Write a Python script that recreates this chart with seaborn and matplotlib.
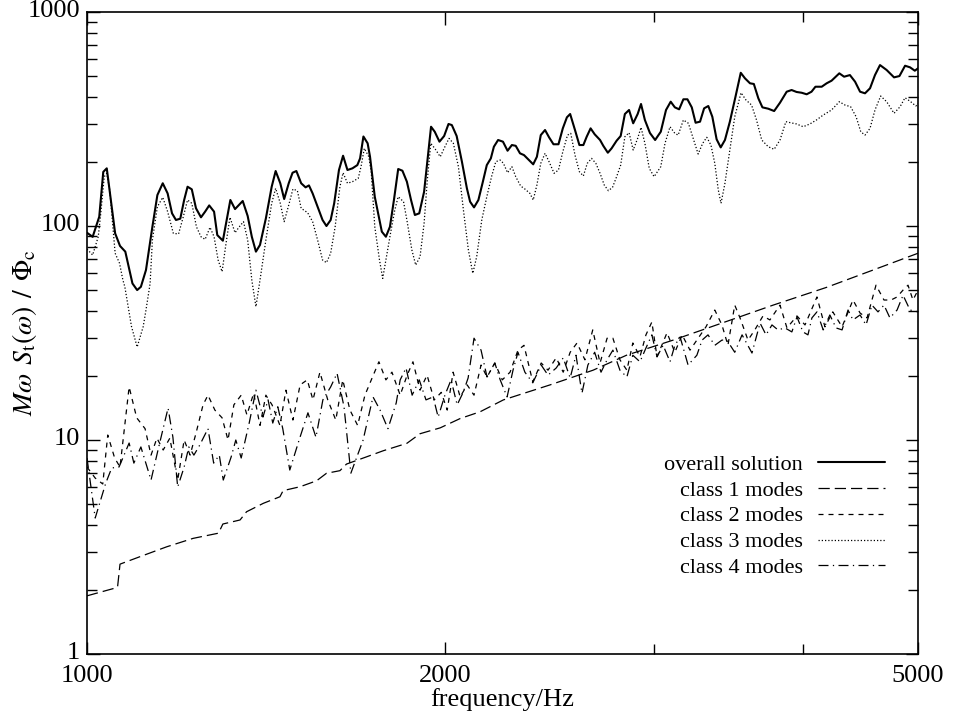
import matplotlib
matplotlib.use("Agg")
import matplotlib.pyplot as plt
import seaborn as sns
from matplotlib.ticker import FixedLocator, FixedFormatter, LogLocator, NullFormatter
from matplotlib.transforms import ScaledTranslation

# values (frequency in Hz, response)
overall_f = [1000, 1011, 1024, 1032, 1039, 1056, 1066, 1077, 1092, 1102,
             1110, 1121, 1135, 1146, 1158, 1169, 1179, 1188, 1198, 1207,
             1215, 1225, 1235, 1247, 1257, 1267, 1279, 1287, 1301, 1320,
             1332, 1342, 1352, 1365, 1376, 1387, 1398, 1414, 1430, 1441,
             1454, 1465, 1478, 1489, 1500, 1514, 1527, 1537, 1548, 1563,
             1578, 1590, 1603, 1614, 1629, 1642, 1656, 1672, 1688, 1697,
             1708, 1722, 1730, 1746, 1770, 1784, 1798, 1812, 1827, 1842,
             1858, 1873, 1887, 1903, 1921, 1935, 1947, 1961, 1979, 1997,
             2014, 2027, 2046, 2067, 2087, 2100, 2116, 2134, 2151, 2169,
             2186, 2199, 2217, 2238, 2258, 2277, 2294, 2313, 2331, 2350,
             2373, 2390, 2408, 2428, 2447, 2468, 2492, 2513, 2533, 2549,
             2573, 2595, 2615, 2632, 2652, 2673, 2701, 2718, 2742, 2762,
             2789, 2811, 2834, 2857, 2880, 2905, 2924, 2946, 2975, 3005,
             3038, 3069, 3097, 3122, 3148, 3174, 3199, 3226, 3250, 3278,
             3304, 3331, 3357, 3385, 3412, 3440, 3473, 3511, 3547, 3576,
             3611, 3638, 3670, 3699, 3741, 3784, 3827, 3877, 3914, 3952,
             3991, 4030, 4068, 4099, 4149, 4189, 4229, 4293, 4333, 4382,
             4426, 4469, 4512, 4556, 4600, 4645, 4705, 4773, 4823, 4876,
             4923, 4969, 5000]
overall_v = [93, 89, 110.5, 179, 186, 92.4, 80.7, 75.9, 53.9, 50.2,
             52, 62.3, 99.2, 139.5, 158.4, 142, 114.6, 106.7, 108.2, 132.3,
             152.6, 148.4, 121, 109.8, 116.7, 124.8, 116.7, 90.7, 85.4, 132.3,
             120, 125.3, 130.9, 111.4, 89.1, 75.9, 81.6, 108.6, 152.6, 180.7,
             158.4, 133.7, 158.4, 177.4, 180.7, 158.4, 151.6, 154.8, 142, 123,
             106.7, 100, 106.7, 127.7, 182.7, 213, 182.7, 186, 192.6, 207,
             262, 243.5, 210.7, 137, 94.1, 89.1, 99.2, 132.3, 184.7, 181.3,
             161.1, 132.3, 112.6, 114.6, 144.6, 210.7, 291, 275.8, 247.8, 263.4,
             299.8, 296.3, 263.4, 199.7, 150, 129.9, 122.2, 132.3, 158.4, 192.6,
             207, 234.7, 252.3, 247.8, 224.8, 239, 237, 218.6, 214.5, 204.9,
             194.2, 210.7, 266, 280.9, 259.7, 241, 241, 286, 322, 333.7,
             280.9, 239, 239, 261.4, 286, 268.3, 252.3, 237, 220, 230.6,
             250.4, 263.4, 333.7, 348.4, 302, 333.7, 371.7, 312.9, 272, 252.3,
             275.8, 348.4, 381, 358.5, 351, 391, 391, 358.5, 303.8, 307.3,
             354.7, 363.7, 324, 254.2, 233, 252.3, 307.3, 402, 520, 490,
             464.4, 461, 395, 358.5, 353.3, 344.6, 376.8, 424.2, 432, 423,
             419.5, 412.6, 424.2, 447.6, 447.6, 464.4, 477.6, 517, 498.5, 507.4,
             472.5, 424.2, 417, 440, 507.4, 565, 535.8, 495, 502, 561,
             551.5, 531.8, 545.6]

class1_f = [1000, 1055, 1061, 1066, 1108, 1167, 1228, 1290, 1301, 1345,
            1362, 1407, 1453, 1462, 1511, 1560, 1590, 1632, 1653, 1719,
            1775, 1858, 1906, 1982, 2060, 2141, 2240, 2452, 2665, 2843,
            3112, 3385, 3777, 4189, 4584, 5000]
class1_v = [1.87, 2.03, 2.06, 2.63, 2.85, 3.17, 3.47, 3.67, 4.05, 4.23,
            4.62, 5.06, 5.43, 5.80, 6.05, 6.45, 6.99, 7.19, 7.72, 8.35,
            8.91, 9.65, 10.7, 11.4, 12.6, 13.55, 15.4, 18.1, 21.2, 24.9,
            29.3, 34.5, 42.7, 51.7, 62.3, 74.6]

class2_f = [1000, 1016, 1031, 1041, 1055, 1066, 1085, 1101, 1119, 1132,
            1145, 1159, 1174, 1192, 1207, 1221, 1235, 1252, 1264, 1281,
            1299, 1314, 1329, 1348, 1363, 1381, 1398, 1414, 1431, 1453,
            1470, 1490, 1511, 1532, 1549, 1570, 1594, 1619, 1641, 1664,
            1689, 1713, 1737, 1760, 1784, 1805,
            1834, 1859, 1880, 1906, 1932, 1959, 1986, 2009, 2032, 2060,
            2088, 2116, 2145, 2170, 2203, 2235, 2269, 2304, 2331, 2371,
            2410, 2442, 2481, 2515, 2549, 2583, 2623, 2663, 2701, 2738,
            2769, 2807, 2845, 2878, 2918, 2952, 2986, 3016, 3075, 3122,
            3166, 3215, 3258, 3316, 3373, 3420, 3460, 3506, 3542, 3597,
            3645, 3703, 3753, 3827, 3879, 3955, 4017, 4111, 4175, 4239,
            4316, 4408, 4469, 4530, 4609, 4681, 4745, 4801, 4857, 4904,
            4951, 5000]
class2_v = [7.48, 6.64, 6.23, 10.55, 8.24, 7.48, 17.7, 12.7, 11.3, 8.5,
            10.2, 8.98, 10.2, 6.5, 10, 8.5, 10.75, 14.6, 16.2, 13.8,
            12.7, 10, 14.6, 16.2, 13.1, 16.55, 11.7, 16.2, 14.6, 11.7,
            17.1, 12.4, 18.1, 19.1, 15.4, 20.75, 15.4, 12.4, 19.1, 13.8,
            11.7, 16.2, 19.5, 23.2, 19.1, 20.75,
            16.2, 20.1, 23.2, 17.1, 20.1, 15.4, 16.7, 13.8, 20.75, 15.9,
            18.1, 16.2, 22.4, 19.7, 22.9, 19.1, 20.75, 26.3, 27.7, 18.7,
            22.9, 21.2, 24.2, 20.75, 25.7, 28.4, 23.7, 32.7, 22.9, 29.9,
            29.9, 23.7, 21.2, 28.4, 24.5, 31, 35.6, 24.5, 31.7, 25.7,
            31, 26.3, 29.3, 33.8, 40.5, 34.5, 27.7, 42.7, 37.2, 29.3,
            32.7, 38, 36.4, 42.7, 33.4, 38, 34.5, 46.6, 33.8, 39.7,
            33.8, 45.1, 39.2, 37.2, 52.9, 45.1, 45.1, 46.6, 50.2, 52.9,
            45.1, 50.2]

class3_f = [1000, 1011, 1022, 1027, 1034, 1039, 1045, 1056, 1065, 1072,
            1076, 1090, 1102, 1115, 1121, 1130, 1135, 1146, 1158, 1169,
            1182, 1194, 1205, 1215, 1225, 1236, 1247, 1257, 1269, 1279,
            1289, 1299, 1309, 1319, 1332, 1342, 1354, 1365, 1376, 1387,
            1398, 1414, 1430, 1441, 1454, 1465, 1478, 1490, 1503, 1514,
            1533, 1548, 1563, 1578, 1590, 1603, 1617, 1632, 1642, 1656,
            1672, 1691, 1700, 1711, 1726, 1734, 1746, 1762, 1773, 1800,
            1815, 1827, 1846, 1858, 1876, 1890, 1906, 1921, 1933, 1946,
            1961, 1982, 2000, 2016, 2033, 2053, 2073, 2093, 2111, 2127,
            2148, 2169, 2189, 2207, 2226, 2240, 2258, 2277, 2294, 2316,
            2335, 2358, 2373, 2390, 2408, 2428, 2447, 2471, 2492, 2513,
            2536, 2552, 2573, 2595, 2615, 2635, 2657, 2679, 2701, 2723,
            2745, 2767, 2789, 2811, 2834, 2857, 2880, 2905, 2924, 2946,
            2971, 2999, 3038, 3063, 3093, 3122, 3142, 3174, 3205, 3235,
            3266, 3295, 3321, 3348, 3373, 3396, 3414, 3440, 3473, 3506,
            3549, 3583, 3622, 3657, 3694, 3741, 3784, 3827, 3871, 3906,
            3952, 4003, 4055, 4107, 4161, 4229, 4293, 4341, 4388, 4435,
            4475, 4512, 4556, 4600, 4651, 4705, 4773, 4829, 4876, 4929,
            4979, 5000]
class3_v = [78, 73.2, 89.1, 114.6, 170, 176.3, 147.3, 74.6, 67, 55.9,
            52, 33.9, 27.2, 33.9, 40.5, 53.9, 86, 123, 136.1, 116.7,
            92.4, 91.8, 110.5, 132.3, 127.7, 99.2, 89.1, 86.6, 98.6, 89.1,
            69.4, 61.2, 83, 109.8, 93, 98.6, 104.8, 86, 55.9, 42,
            55.9, 86, 127.7, 150, 127.7, 104.8, 125.3, 148.9, 146.2, 121,
            115.4, 104.8, 86, 69.4, 67.4, 74.6, 99.2, 152.6, 177.4, 158.4,
            161.1, 167, 189.3, 230.6, 210.7, 178.9, 99.2, 69.4, 56.9, 92.4,
            118.8, 137, 129.9, 106.7, 77.3, 65.7, 71.9, 103, 164.1, 243.5,
            230.6, 210.7, 234.7, 256.8, 243.5, 189.3, 118.8, 77.3, 60.1, 71.9,
            106.7, 137, 170, 199.7, 203.4, 196.3, 177.4, 189.3, 170, 153.8,
            148.9, 142, 132.3, 155.4, 196.3, 218.6, 199.7, 176.3, 182.7, 222.4,
            266, 271, 214.5, 179.4, 171.3, 196.3, 207, 196.3, 176.3, 155.4,
            146.2, 151.6, 170, 192.6, 261.4, 272.8, 226.5, 256.8, 289, 243.5,
            186, 170, 189.3, 243.5, 291, 271, 266, 312.9, 302, 256.8,
            217, 243.5, 259.7, 239, 196.3, 147.3, 127.7, 158.4, 226.5, 324,
            419.5, 388, 367.6, 312.9, 252.3, 234.7, 228.2, 252.3, 307.3, 303.8,
            299.8, 291, 299.8, 312.9, 330, 348.4, 381, 367.4, 361, 324,
            275.8, 266, 286, 348.4, 405, 381, 336.2, 361, 397.7, 381,
            363.7, 374.4]

class4_f = [1000, 1016, 1037, 1049, 1064, 1085, 1095, 1110, 1132, 1149,
            1170, 1181, 1192, 1207, 1218, 1230, 1244, 1264, 1278, 1292,
            1302, 1322, 1334, 1348, 1369, 1387, 1406, 1420, 1433, 1447,
            1461, 1481, 1508, 1534, 1558, 1579, 1603, 1623, 1645, 1667,
            1707, 1740, 1764, 1791, 1820, 1834, 1855, 1877, 1903, 1928,
            1955, 1974, 2000, 2024, 2048, 2072, 2092, 2116, 2145, 2170,
            2203, 2226, 2256, 2282, 2304, 2335, 2371, 2410, 2442, 2481,
            2515, 2549, 2578, 2608, 2638, 2673, 2706, 2738, 2769, 2807,
            2845, 2878, 2918, 2952, 2986, 3016, 3052, 3093, 3122, 3154,
            3203, 3258, 3291, 3329, 3373, 3420, 3453, 3506, 3556, 3625,
            3682, 3725, 3768, 3812, 3864, 3916, 3955, 4001, 4040, 4071,
            4111, 4161, 4215, 4266, 4316, 4366, 4408, 4469, 4521, 4573,
            4627, 4681, 4735, 4801, 4857, 4923, 5000]
class4_v = [8.24, 4.32, 6.29, 7.4, 7.48, 9.68, 7.8, 9.28, 6.5, 9.28,
            14.1, 10.3, 6.03, 7.48, 9.28, 8.5, 9.47, 11.3, 7.8, 8.5,
            6.5, 8.33, 10, 8.24, 12, 17.1, 12.8, 15.4, 12, 14.3,
            11.3, 7.24, 10, 13.4, 10.3, 15.4, 17.7, 20.5, 14.3, 7.0,
            10, 15.9, 13.8, 11.3, 14.9, 19.1, 21.7, 16.2, 19.1, 15.4,
            15.9, 12.8, 16.2, 19.1, 14.6, 16.7, 19.5, 29.9, 26.3, 19.7,
            22.9, 19.1, 15.9, 21.2, 25.7, 20.75, 18.5, 22.4, 20.1, 21.7,
            24.2, 19.5, 24.9, 16.55, 22.4, 25.7, 20.75, 23.7, 26.3, 21.2,
            19.7, 24.9, 23.2, 26.9, 31, 24.5, 27.7, 23.2, 27.7, 30.3,
            22.4, 24.9, 29.3, 31, 27.7, 29.3, 29.3, 25.7, 31, 25.5,
            35.2, 31, 34.5, 32.7, 33.4, 32, 37.6, 32, 31, 37.2,
            39.7, 32.7, 38.4, 33.4, 32.7, 40.5, 36.4, 38.4, 34.5, 42.7,
            39.7, 42.7, 37.2, 40.5, 47.5, 40.5, 39.7]

labels = ["overall solution", "class 1 modes", "class 2 modes",
          "class 3 modes", "class 4 modes"]

sns.set_style("ticks")
plt.rcParams["font.family"] = ["Liberation Serif", "DejaVu Serif"]
plt.rcParams["mathtext.fontset"] = "stix"
for key in ["text.color", "axes.labelcolor", "xtick.color", "ytick.color",
            "axes.edgecolor"]:
    plt.rcParams[key] = "black"

fig = plt.figure(figsize=(9.54, 7.15), dpi=100)
ax = fig.add_axes([0.0912, 0.0853, 0.8711, 0.8979])

series = [
    (overall_f, overall_v, 1.5, "-"),
    (class1_f, class1_v, 0.9, (0, (9, 4))),
    (class2_f, class2_v, 0.9, (0, (4, 4))),
    (class3_f, class3_v, 0.9, (0, (1, 1.6))),
    (class4_f, class4_v, 0.9, (0, (8, 3.5, 1, 3.5))),
]
handles = []
for f, v, lw, ls in series:
    sns.lineplot(x=f, y=v, ax=ax, color="black", lw=lw,
                 estimator=None, sort=False)
    line = ax.get_lines()[-1]
    line.set_linestyle(ls)
    handles.append(line)

ax.set_xscale("log")
ax.set_yscale("log")
ax.set_xlim(1000, 5000)
ax.set_ylim(1, 1000)

ax.xaxis.set_major_locator(FixedLocator([1000, 2000, 5000]))
ax.xaxis.set_major_formatter(FixedFormatter(["1000", "2000", "5000"]))
ax.xaxis.set_minor_locator(FixedLocator([3000, 4000]))
ax.xaxis.set_minor_formatter(NullFormatter())
ax.yaxis.set_major_locator(FixedLocator([1, 10, 100, 1000]))
ax.yaxis.set_major_formatter(FixedFormatter(["1", "10", "100", "1000"]))
ax.yaxis.set_minor_locator(LogLocator(base=10, subs=range(2, 10)))
ax.yaxis.set_minor_formatter(NullFormatter())

ax.tick_params(which="both", direction="in", top=True, right=True,
               labelsize=19, width=1.0)
ax.tick_params(which="major", length=9)
ax.tick_params(which="minor", length=7)
ax.tick_params(axis="x", which="major", pad=8)
ax.tick_params(axis="y", which="major", pad=5)
for s in ax.spines.values():
    s.set_linewidth(1.2)

# y tick labels sit a little above their ticks in the reference
lift = ScaledTranslation(0, 0.035, fig.dpi_scale_trans)
for t in ax.yaxis.get_major_ticks():
    t.label1.set_transform(t.label1.get_transform() + lift)

ax.set_xlabel("frequency/Hz", fontsize=19, labelpad=1)
ax.set_ylabel(r"$M\omega\;\, S_{\mathrm{t}}(\omega)\;\,/\;\,\mathit{\Phi}_{\mathrm{c}}$",
              fontsize=20)
ax.yaxis.set_label_coords(-0.058, 0.5)

ax.legend(handles, labels, loc="lower right", bbox_to_anchor=(0.96, 0.118),
          frameon=False, markerfirst=False, fontsize=16, handlelength=3.0,
          handletextpad=0.7, labelspacing=0.24, borderpad=0, borderaxespad=0)

fig.savefig("out.png", dpi=100, facecolor="white")
